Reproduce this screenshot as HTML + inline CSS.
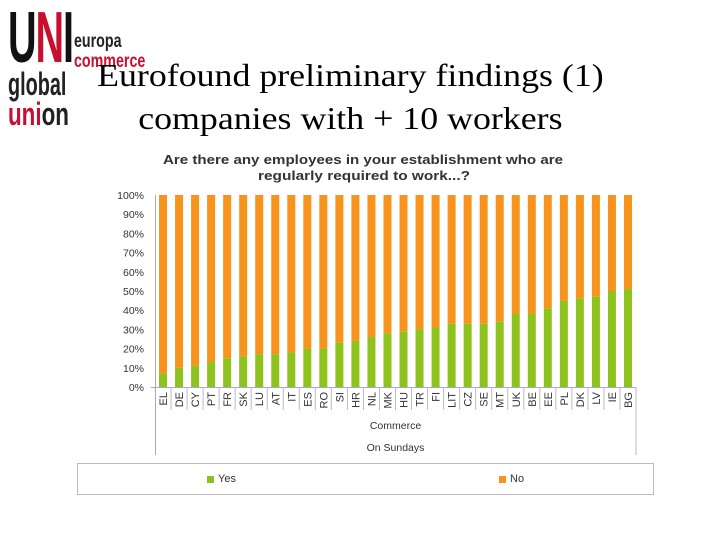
<!DOCTYPE html>
<html><head><meta charset="utf-8"><style>
body{margin:0;width:720px;height:540px;background:#fff;position:relative;overflow:hidden;font-family:"Liberation Sans",sans-serif}
.abs{position:absolute}
</style></head><body>
<div class="abs" style="left:6px;top:4px;width:140px;height:125px">
 <div class="abs" style="left:2px;top:-2px;font:bold 72px/72px 'Liberation Sans',sans-serif;color:#111;letter-spacing:-2px;transform:scaleX(0.55);transform-origin:left">U<span style="color:#c8102e">N</span>I</div>
 <div class="abs" style="left:68px;top:28px;font:bold 19px/19px 'Liberation Sans',sans-serif;color:#222;transform:scaleX(0.75);transform-origin:left">europa</div>
 <div class="abs" style="left:68px;top:48px;font:bold 19px/19px 'Liberation Sans',sans-serif;color:#c8102e;transform:scaleX(0.75);transform-origin:left">commerce</div>
 <div class="abs" style="left:2px;top:64px;font:bold 32px/32px 'Liberation Sans',sans-serif;color:#222;transform:scaleX(0.62);transform-origin:left">global</div>
 <div class="abs" style="left:2px;top:94px;font:bold 32px/32px 'Liberation Sans',sans-serif;color:#c8102e;transform:scaleX(0.7);transform-origin:left">uni<span style="color:#222">on</span></div>
</div>
<div class="abs" style="left:80px;width:560px;top:54px;text-align:center;font:32px/43px 'Liberation Serif',serif;color:#000;transform:scaleX(1.12);transform-origin:360px 0">Eurofound preliminary findings (1)<br>companies with + 10 workers</div>
<svg class="abs" style="left:0;top:0" width="720" height="540">
 <text x="163" y="164" textLength="400" lengthAdjust="spacingAndGlyphs" font-size="13" font-weight="bold" fill="#333">Are there any employees in your establishment who are</text>
 <text x="258" y="180" textLength="212" lengthAdjust="spacingAndGlyphs" font-size="13" font-weight="bold" fill="#333">regularly required to work...?</text>
 <g id="plot"></g>
 <rect x="77.5" y="463.5" width="576" height="31" fill="none" stroke="#bbb"/>
 <rect x="207" y="476" width="7" height="7" fill="#8dc21f"/>
 <text x="218" y="482" font-size="11" fill="#333">Yes</text>
 <rect x="499" y="476" width="7" height="7" fill="#f7941d"/>
 <text x="510" y="482" font-size="11" fill="#333">No</text>
</svg>
<script>
const categories=["EL","DE","CY","PT","FR","SK","LU","AT","IT","ES","RO","SI","HR","NL","MK","HU","TR","FI","LIT","CZ","SE","MT","UK","BE","EE","PL","DK","LV","IE","BG"];
const yesValues=[7,10,11,13,15,16,17,17,18,20,20,23,24,26,28,29,30,31,33,33,33,34,38,38,41,45,46,47,50,51];
const yTicks=[0,10,20,30,40,50,60,70,80,90,100];
const ns="http://www.w3.org/2000/svg",g=document.getElementById('plot');
const x0=155,x1=636,yb=387,yt=195;
const step=(x1-x0)/categories.length;
const yS=v=>yb-(v/100)*(yb-yt);
const xC=i=>x0+step*(i+0.5);
function mk(t,a){const e=document.createElementNS(ns,t);for(const k in a)e.setAttribute(k,a[k]);g.appendChild(e);return e;}
yTicks.forEach(v=>{const t=mk('text',{x:x0-11,y:yS(v)+4,'text-anchor':'end','font-size':'10.5',fill:'#333'});t.textContent=v+'%';

});
const ax=mk('line',{x1:x0+.5,x2:x0+.5,y1:yt,y2:455,stroke:'#aaa'});


const xa=mk('line',{x1:x0-4,x2:x1,y1:yb+.5,y2:yb+.5,stroke:'#aaa'});


const bw=8;
categories.forEach((c,i)=>{
 const cx=xC(i),y=yesValues[i];
 const no=mk('rect',{x:cx-bw/2,y:yS(100),width:bw,height:yS(y)-yS(100),fill:'#f7941d'});
 
 
 const ye=mk('rect',{x:cx-bw/2,y:yS(y),width:bw,height:yb-yS(y),fill:'#8dc21f'});
 
 
 const sep=mk('line',{x1:x0+step*(i+1),x2:x0+step*(i+1),y1:yb,y2:410,stroke:'#bbb'});
 
 
 const t=mk('text',{transform:`translate(${cx+4},${yb+5}) rotate(-90)`,'text-anchor':'end','font-size':'11',fill:'#333'});t.textContent=c;
 
 
});
const rl=mk('line',{x1:x1,x2:x1,y1:410,y2:455,stroke:'#bbb'});


const g1=mk('text',{x:(x0+x1)/2,y:429,'text-anchor':'middle','font-size':'10.5',fill:'#333'});g1.textContent='Commerce';


const g2=mk('text',{x:(x0+x1)/2,y:451,'text-anchor':'middle','font-size':'10.5',fill:'#333'});g2.textContent='On Sundays';


</script>
</body></html>
